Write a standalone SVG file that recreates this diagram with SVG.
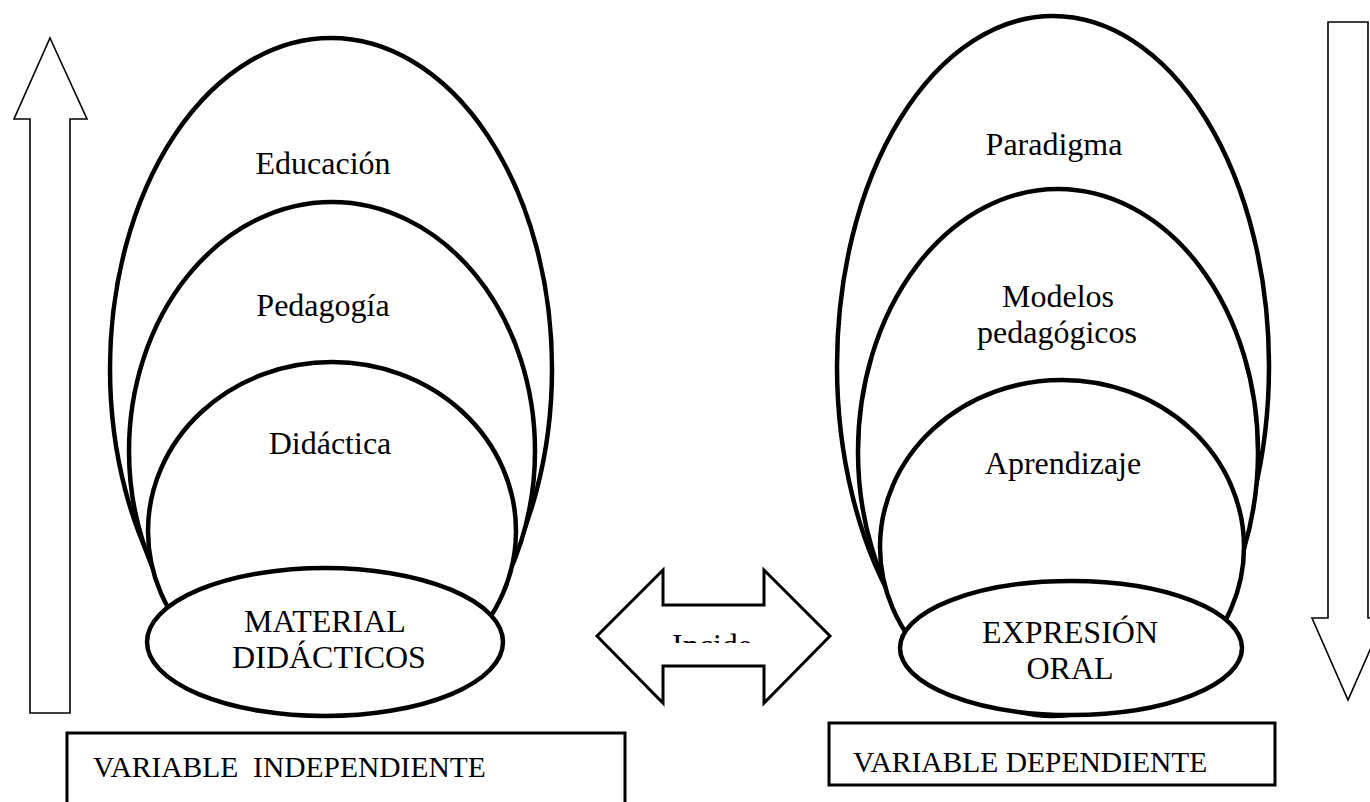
<svg xmlns="http://www.w3.org/2000/svg" width="1370" height="802" viewBox="0 0 1370 802">
<defs>
<style>
.bg{fill:#fff}
.ell{fill:#fff;stroke:#000;stroke-width:4.5}
.arr{fill:#fff;stroke:#000;stroke-width:1.6}
.dbl{fill:#fff;stroke:#000;stroke-width:3}
.box{fill:#fff;stroke:#000;stroke-width:3}
.t{font-family:"Liberation Serif","Times New Roman",serif;font-size:32px;fill:#000;text-anchor:middle}
.bt{font-family:"Liberation Serif","Times New Roman",serif;font-size:29.5px;fill:#000}
</style>
<clipPath id="incClip"><rect x="660" y="600" width="110" height="43"/></clipPath>
</defs>
<rect class="bg" x="0" y="0" width="1370" height="802"/>

<g id="connectors">
<polygon id="arrow-up" class="arr" points="50,38 87,119 70,119 70,713 30,713 30,119 14,119"/>
<polygon id="arrow-down" class="arr" points="1328,22 1368,22 1368,618 1384,618 1348,700 1312,618 1328,618"/>
<g id="arrow-incide">
<polygon class="dbl" points="597,636 663,570 663,605 764,605 764,570 830,636 764,703 764,666 663,666 663,703"/>
<text class="t" x="712" y="656" clip-path="url(#incClip)">Incide</text>
</g>
</g>

<g id="left-group">
<g id="educacion"><ellipse class="ell" cx="331" cy="369" rx="221" ry="331"/><text class="t" x="323" y="174">Educación</text></g>
<g id="pedagogia"><ellipse class="ell" cx="332" cy="451" rx="203" ry="249"/><text class="t" x="323" y="316">Pedagogía</text></g>
<g id="didactica"><ellipse class="ell" cx="332" cy="531" rx="184" ry="169"/><text class="t" x="330" y="454">Didáctica</text></g>
<g id="material"><ellipse class="ell" cx="325" cy="642" rx="178" ry="74"/><text class="t" x="325" y="632">MATERIAL</text><text class="t" x="329" y="668">DIDÁCTICOS</text></g>
</g>

<g id="right-group">
<g id="paradigma"><ellipse class="ell" cx="1053" cy="366" rx="216" ry="350"/><text class="t" x="1054" y="155">Paradigma</text></g>
<g id="modelos"><ellipse class="ell" cx="1058" cy="452" rx="200" ry="263"/><text class="t" x="1058" y="307">Modelos</text><text class="t" x="1057" y="343">pedagógicos</text></g>
<g id="aprendizaje"><ellipse class="ell" cx="1062" cy="547" rx="182" ry="167"/><text class="t" x="1063" y="474">Aprendizaje</text></g>
<g id="expresion"><ellipse class="ell" cx="1071" cy="648" rx="171" ry="67"/><text class="t" x="1070" y="643">EXPRESIÓN</text><text class="t" x="1070" y="679">ORAL</text></g>
</g>

<g id="var-independiente">
<rect class="box" x="67" y="733" width="558" height="90"/>
<text class="bt" x="93" y="777" xml:space="preserve">VARIABLE  INDEPENDIENTE</text>
</g>
<g id="var-dependiente">
<rect class="box" x="829" y="723" width="446" height="62"/>
<text class="bt" x="853" y="772">VARIABLE DEPENDIENTE</text>
</g>
</svg>
